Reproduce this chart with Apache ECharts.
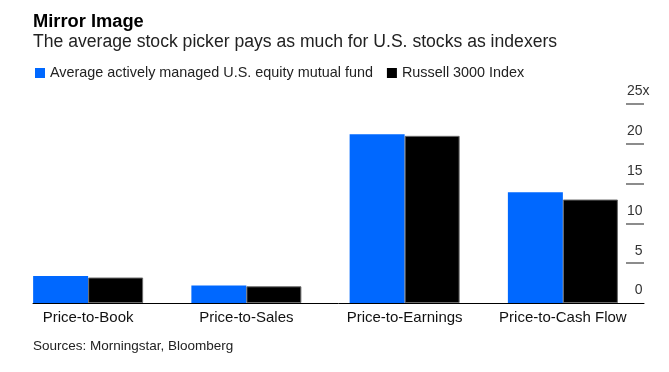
<!DOCTYPE html>
<html>
<head>
<meta charset="utf-8">
<script src="https://cdn.jsdelivr.net/npm/echarts@6/dist/echarts.min.js"></script>
<style>
html,body{margin:0;padding:0;background:#fff;}
#chart{width:669px;height:372px;}
</style>
</head>
<body>
<div id="chart"></div>
<script>
var categories = ['Price-to-Book', 'Price-to-Sales', 'Price-to-Earnings', 'Price-to-Cash Flow'];
var activeFund = [3.4, 2.2, 21.2, 13.9];
var russell3000 = [3.2, 2.1, 21.0, 13.0];
var yTicks = [0, 5, 10, 15, 20, 25];
var seriesNames = ['Average actively managed U.S. equity mutual fund', 'Russell 3000 Index'];

var FONT = '"Liberation Sans", Arial, sans-serif';
var chart = echarts.init(document.getElementById('chart'), null, {renderer: 'canvas'});

var option = {
  backgroundColor: '#fff',
  animation: false,
  textStyle: {fontFamily: FONT},
  title: [
    {text: 'Mirror Image', left: 33, top: 13, padding: 0,
     textStyle: {fontFamily: FONT, fontSize: 18.3, fontWeight: 'bold', color: '#000'}},
    {text: 'The average stock picker pays as much for U.S. stocks as indexers', left: 33, top: 33, padding: 0,
     textStyle: {fontFamily: FONT, fontSize: 17.6, fontWeight: 'normal', color: '#222'}},
    {text: 'Sources: Morningstar, Bloomberg', left: 33, top: 339, padding: 0,
     textStyle: {fontFamily: FONT, fontSize: 13.5, fontWeight: 'normal', color: '#222'}}
  ],
  legend: {
    left: 35, top: 66, padding: 0, itemGap: 14,
    itemWidth: 10, itemHeight: 10, icon: 'rect',
    itemStyle: {borderWidth: 0},
    textStyle: {fontFamily: FONT, fontSize: 14.4, color: '#222'},
    data: seriesNames
  },
  grid: [
    {left: 9, right: 27, top: 104, bottom: 69, containLabel: false},
    {left: 33, right: 25, top: 104, bottom: 69, containLabel: false}
  ],
  xAxis: [
    {type: 'category', gridIndex: 0, data: categories,
     axisLine: {show: false}, axisTick: {show: false},
     axisLabel: {interval: 0, margin: 7, fontFamily: FONT, fontSize: 15, color: '#111'}},
    {type: 'value', gridIndex: 1, min: 0, max: 1,
     axisLine: {show: true, onZero: false, lineStyle: {color: '#000', width: 1}},
     axisTick: {show: false}, axisLabel: {show: false}, splitLine: {show: false}}
  ],
  yAxis: [
    {type: 'value', gridIndex: 0, position: 'right', offset: 2, min: 0, max: 25, interval: 5,
     axisLine: {show: false},
     splitLine: {show: false},
     axisTick: {show: true, inside: true, length: 18, customValues: yTicks.slice(1),
                lineStyle: {color: '#8c8c8c', width: 2}},
     axisLabel: {inside: true, margin: -5.5, customValues: yTicks,
                 fontFamily: FONT, fontSize: 14, color: '#333',
                 verticalAlign: 'bottom', lineHeight: 25,
                 formatter: function (v) { return v === 25 ? v + 'x' : v + '{h|x}'; },
                 rich: {h: {color: 'rgba(0,0,0,0)', fontFamily: FONT, fontSize: 14, lineHeight: 25}}}},
    {type: 'value', gridIndex: 1, show: false, min: 0, max: 1}
  ],
  series: [
    {name: seriesNames[0], type: 'bar', xAxisIndex: 0, yAxisIndex: 0,
     data: activeFund, barWidth: 55, barGap: '0%',
     itemStyle: {color: '#0068ff'}},
    {name: seriesNames[1], type: 'bar', xAxisIndex: 0, yAxisIndex: 0,
     data: russell3000, barWidth: 55, barGap: '0%',
     itemStyle: {color: '#000', borderColor: '#6a6a6a', borderWidth: 1}}
  ]
};
chart.setOption(option);
</script>
</body>
</html>
